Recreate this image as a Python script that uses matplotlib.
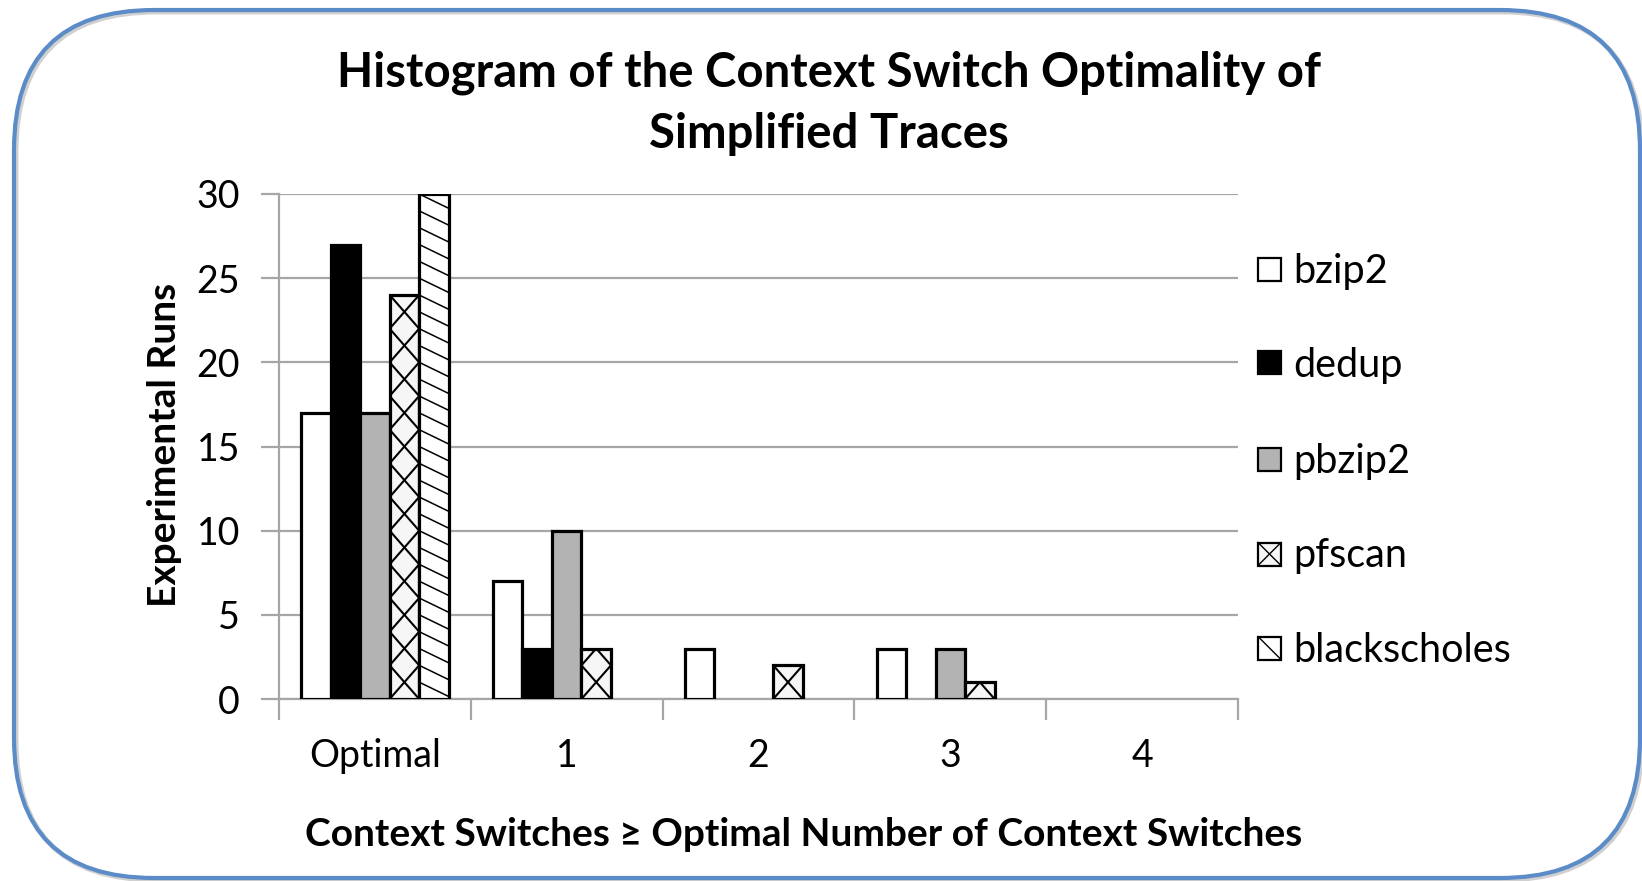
import numpy as np
import matplotlib
matplotlib.use("Agg")
import matplotlib.pyplot as plt
from matplotlib.patches import Rectangle, FancyBboxPatch
from matplotlib.collections import LineCollection
from matplotlib.transforms import IdentityTransform

plt.rcParams['font.family'] = ['Lato', 'DejaVu Sans']

categories = ["Optimal", "1", "2", "3", "4"]
series_names = ["bzip2", "dedup", "pbzip2", "pfscan", "blackscholes"]
bzip2 = [17, 7, 3, 3, 0]
dedup = [27, 3, 0, 0, 0]
pbzip2 = [17, 10, 0, 3, 0]
pfscan = [24, 3, 2, 1, 0]
blackscholes = [30, 0, 0, 0, 0]
y_ticks = [0, 5, 10, 15, 20, 25, 30]

series_values = [bzip2, dedup, pbzip2, pfscan, blackscholes]
face_colors = ["white", "black", "#b3b3b3", "#f6f6f6", "white"]
hatch_kind = [None, None, None, "cross", "diag"]

W, H = 1642, 881
fig = plt.figure(figsize=(W / 100, H / 100), dpi=100)
fig.patch.set_facecolor("white")


def fx(x):
    return x / W


def fy(y):
    return 1 - y / H


ax = fig.add_axes([fx(279), fy(699), fx(1238) - fx(279), fy(194) - fy(699)])

n_series = len(series_names)
bar_w = 1 / 6.5
x = np.arange(len(categories))
grid_color = "#a6a6a6"
edge_lw = 2.3

ax.set_xlim(-0.5, len(categories) - 0.5)
ax.set_ylim(0, 30)

for i, (name, vals) in enumerate(zip(series_names, series_values)):
    offs = (i - (n_series - 1) / 2) * bar_w
    bars = ax.bar(x + offs, vals, width=bar_w, color=face_colors[i],
                  edgecolor="black", linewidth=edge_lw, zorder=3)
    for b, v in zip(bars, vals):
        if v <= 0:
            b.set_visible(False)
            continue
        x0 = b.get_x()
        x1 = x0 + b.get_width()
        top = b.get_height()
        segs = []
        if hatch_kind[i] == "cross":
            # diamonds two units tall, anchored at the bar base
            k = 0
            while 2 * k < top:
                segs.append([(x0, 2 * k), (x1, 2 * k + 2)])
                segs.append([(x1, 2 * k), (x0, 2 * k + 2)])
                k += 1
            lc = LineCollection(segs, colors="black", linewidths=1.5, zorder=3.5)
        elif hatch_kind[i] == "diag":
            k = -1
            while top - k > -1:
                segs.append([(x0, top - k), (x1, top - k - 0.85)])
                k += 1
            lc = LineCollection(segs, colors="black", linewidths=1.1, zorder=3.5)
        else:
            continue
        ax.add_collection(lc)
        lc.set_clip_path(b)

# axes styling
for s in ["top", "right"]:
    ax.spines[s].set_visible(False)
for s in ["left", "bottom"]:
    ax.spines[s].set_color(grid_color)
    ax.spines[s].set_linewidth(1.6)
ax.set_yticks(y_ticks)
ax.set_yticklabels([str(v) for v in y_ticks], fontsize=27)
ax.yaxis.grid(True, color=grid_color, linewidth=1.6, zorder=0)
ax.set_axisbelow(True)
ax.tick_params(axis="y", length=13, width=1.6, color=grid_color, pad=15)
ax.set_xticks(x)
ax.set_xticklabels(categories, fontsize=27)
ax.tick_params(axis="x", length=0, pad=28)
ax.set_xticks(np.arange(len(categories) + 1) - 0.5, minor=True)
ax.tick_params(axis="x", which="minor", length=15, width=1.6, color=grid_color)

fig.text(fx(164), fy(445), "Experimental Runs", rotation=90, ha="center", va="center",
         fontsize=28, fontweight="bold")
fig.text(fx(804), fy(835), "Context Switches \u2265 Optimal Number of Context Switches",
         ha="center", va="center", fontsize=28, fontweight="bold")

fig.text(fx(829), fy(73), "Histogram of the Context Switch Optimality of",
         ha="center", va="center", fontsize=34, fontweight="bold")
fig.text(fx(829), fy(134), "Simplified Traces",
         ha="center", va="center", fontsize=34, fontweight="bold")

# legend
leg_y = [269, 363, 459, 554, 648]
box = 23
for i, name in enumerate(series_names):
    cy = leg_y[i]
    lx0, ly0 = fx(1258), fy(cy + box / 2)
    bw, bh = fx(box), fy(0) - fy(box)
    r = Rectangle((lx0, ly0), bw, bh, transform=fig.transFigure,
                  facecolor=face_colors[i], edgecolor="black", linewidth=1.6)
    fig.add_artist(r)
    if hatch_kind[i] == "cross":
        fig.add_artist(plt.Line2D([lx0, lx0 + bw], [ly0, ly0 + bh],
                                  transform=fig.transFigure, color="black", lw=1.0))
        fig.add_artist(plt.Line2D([lx0, lx0 + bw], [ly0 + bh, ly0],
                                  transform=fig.transFigure, color="black", lw=1.0))
    elif hatch_kind[i] == "diag":
        fig.add_artist(plt.Line2D([lx0, lx0 + bw], [ly0 + bh, ly0],
                                  transform=fig.transFigure, color="black", lw=1.0))
    fig.text(fx(1293), fy(cy + 2), name, ha="left", va="center", fontsize=28.5)

# rounded frame with a soft shadow
shadow = FancyBboxPatch((16, 1), 1626, 868, boxstyle="round,pad=0,rounding_size=140",
                        transform=IdentityTransform(), facecolor="none",
                        edgecolor="#d0d0d0", linewidth=3.5, zorder=-1)
fig.add_artist(shadow)
frame = FancyBboxPatch((14, 3), 1626, 868, boxstyle="round,pad=0,rounding_size=140",
                       transform=IdentityTransform(), facecolor="none",
                       edgecolor="#5b8cc8", linewidth=3.0)
fig.add_artist(frame)

fig.savefig("out.png", dpi=100)
